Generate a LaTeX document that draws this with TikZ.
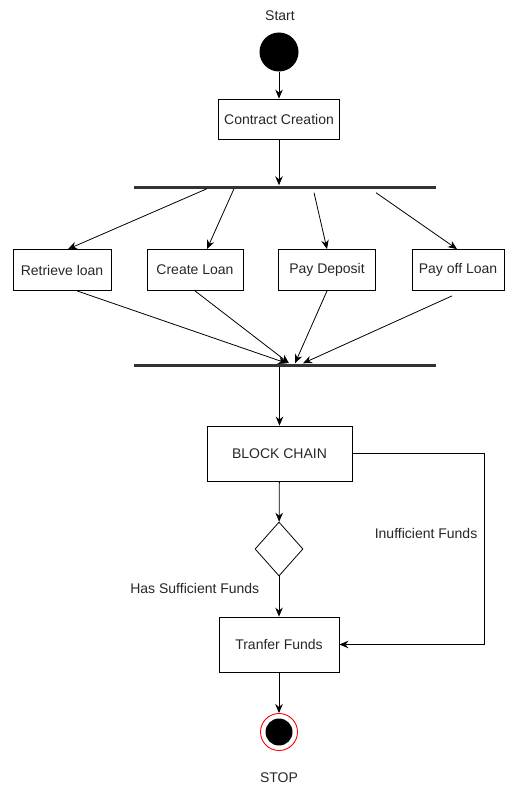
\documentclass[tikz,border=0pt]{standalone}
\usepackage{fontspec}
\setmainfont{Liberation Sans}
\usetikzlibrary{shapes.geometric,arrows.meta}
\tikzset{%
    box/.style={draw, line width=0.8pt, inner sep=0pt, minimum height=41pt},
    bar/.style={fill=black!80, inner sep=0pt, minimum width=302pt, minimum height=3pt},
    decision/.style={draw, diamond, line width=0.8pt, inner sep=0pt, minimum width=48pt, minimum height=54pt},
    flow/.style={-{Stealth[length=9pt,width=7.5pt]}, line width=0.8pt},
    startdot/.style={circle, fill=black, inner sep=0pt, minimum size=39pt},
    stopring/.style={circle, draw=red, fill=white, line width=0.9pt, inner sep=0pt, minimum size=37pt},
    stopdot/.style={circle, fill=black, inner sep=0pt, minimum size=27pt}
}
\begin{document}
\begin{tikzpicture}[x=1pt, y=-1pt, every node/.style={font=\fontsize{14}{16}\selectfont, text=black!85}]
    \useasboundingbox (0,0) rectangle (504,789);
%-----------------------------------------------
    \node (starttext) at (280,16) {Start};
    \node[startdot] (start) at (279,52) {};
    \node[box, minimum width=121pt, minimum height=40pt] (contract) at (279,119) {Contract Creation};
    \node[bar] (fork) at (285,187) {};
    \node[box, minimum width=98pt] (retrieve) at (62,270) {Retrieve loan};
    \node[box, minimum width=96pt] (create) at (195,270) {Create Loan};
    \node[box, minimum width=97pt] (deposit) at (327,270) {Pay Deposit};
    \node[box, minimum width=92pt] (payoff) at (458,270) {Pay off Loan};
    \node[bar] (join) at (285,365) {};
    \node[box, minimum width=145pt, minimum height=55pt] (chain) at (279.5,453.5) {BLOCK CHAIN};
    \node[decision] (check) at (279,549) {};
    \node[box, minimum width=120pt, minimum height=55pt] (transfer) at (279,644.5) {Tranfer Funds};
    \node[stopring] (stop) at (279,732) {};
    \node[stopdot] (stopdot) at (stop) {};
    \node (stoptext) at (279,778) {STOP};
    \coordinate (bend) at (484,453.5);
%-----------------------------------------------
    \draw[flow] (start) -- (contract);
    \draw[flow] (contract.south) -- (contract.south |- fork.north);
    \draw[flow] ([xshift=-78pt]fork.south) -- ([xshift=6pt]retrieve.north);
    \draw[flow] ([xshift=-51pt]fork.south) -- ([xshift=12pt]create.north);
    \draw[flow] ([shift={(29pt,-4pt)}]fork.south) -- (deposit.north);
    \draw[flow] ([shift={(91pt,-4pt)}]fork.south) -- ([xshift=-1pt]payoff.north);
%-----------------------------------------------
    \draw[flow] ([xshift=15pt]retrieve.south) -- ([xshift=2pt]join.north);
    \draw[flow] (create.south) -- ([xshift=4pt]join.north);
    \draw[flow] (deposit.south) -- ([xshift=10pt]join.north);
    \draw[flow] ([shift={(-6pt,-5pt)}]payoff.south) -- ([xshift=18pt]join.north);
%-----------------------------------------------
    \draw[flow] (chain.north |- join.south) -- (chain.north);
    \draw[flow] (chain) -- (check);
    \draw[flow] (check) -- node[pos=0.3, left=16pt] {Has Sufficient Funds} (transfer);
    \draw[flow] (chain.east) -- (bend) |- node[pos=0.21, left=3pt] {Inufficient Funds} (transfer.east);
    \draw[flow] (transfer) -- (stop);
\end{tikzpicture}
\end{document}
